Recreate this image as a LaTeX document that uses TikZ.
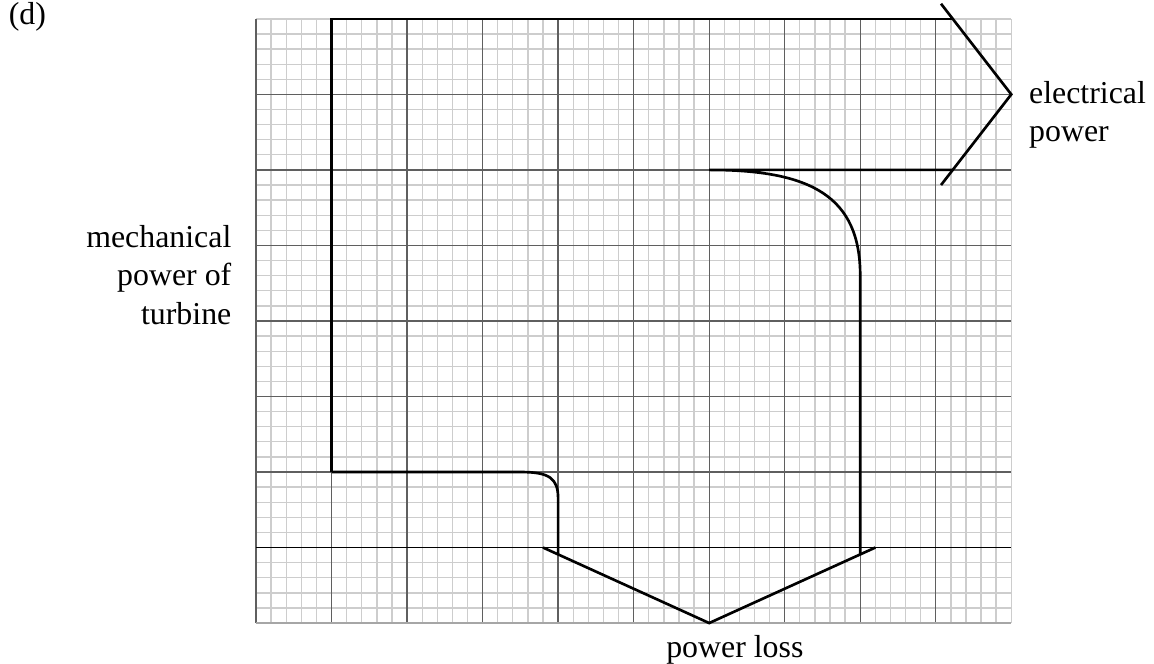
\documentclass[tikz,border=0pt]{standalone}
\usepackage{fontspec}
\setmainfont{Liberation Serif}
\definecolor{gridMinor}{RGB}{205,205,205}
\definecolor{gridMajor}{RGB}{95,95,95}

\begin{document}
\begin{tikzpicture}[font=\fontsize{12pt}{14.4pt}\selectfont,
  flow/.style={line width=1pt,black,line join=miter}]
\useasboundingbox (-3.39,-0.53) rectangle (11.89,8.25);
% graph paper: 10 x 8 large squares, 5 small squares each
\draw[gridMinor,line width=0.5pt,step=0.2] (0,0) grid (10,8);
\foreach \x in {0,...,9} \draw[gridMajor,line width=0.5pt] (\x,0)--(\x,8);
\foreach \y in {2,...,7} \draw[gridMajor,line width=0.5pt] (0,\y)--(10,\y);
\draw[gray!70,line width=0.5pt] (0,0)--(10,0);
\draw[black,line width=0.6pt] (0,1)--(10,1);
% Sankey band
\coordinate (inTop) at (1,8);
\coordinate (inBot) at (1,2);
\coordinate (outTip) at (10,7);
\coordinate (lossTip) at (6,0);
\draw[flow] (inBot)--(inTop)--(9.225,8);
\draw[flow] (9.07,8.2)--(outTip)--(9.07,5.8);
\draw[flow] (9.225,6)--(6,6) .. controls (7.35,6) and (8,5.65) .. (8,4.6)--(8,0.909);
\draw[flow] (8.2,1)--(lossTip)--(3.8,1);
\draw[flow] (4,0.909)--(4,1.65) .. controls (4,1.92) and (3.88,2) .. (3.5,2)--(inBot);
% labels
\node[anchor=west,inner sep=0pt] (partD) at (-3.28,8.03) {(d)};
\node[anchor=east,align=right,inner sep=0pt] (mech) at (-0.32,4.61) {mechanical\\power of\\turbine};
\node[anchor=west,align=left,inner sep=0pt] (elec) at (10.23,6.73) {electrical\\power};
\node[inner sep=0pt] (loss) at (6.34,-0.36) {power loss};
\end{tikzpicture}
\end{document}
